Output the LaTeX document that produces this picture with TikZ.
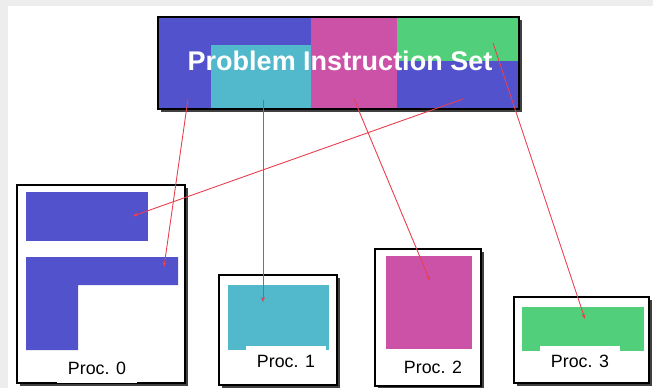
\documentclass[tikz,border=0pt]{standalone}
\usepackage{fontspec}
\setmainfont{Liberation Sans}
\usetikzlibrary{arrows.meta,shadows}
\definecolor{pblue}{HTML}{5252CC}
\definecolor{pcyan}{HTML}{52B8CC}
\definecolor{pmagenta}{HTML}{CC52A8}
\definecolor{pgreen}{HTML}{52CF7A}
\definecolor{feedred}{HTML}{E8404F}
\definecolor{pagegray}{HTML}{EDEDED}
\begin{document}
\begin{tikzpicture}[x=1pt,y=-1pt,
    frame/.style={draw=black, line width=1.5pt, drop shadow={shadow xshift=2.5pt, shadow yshift=-2.5pt, opacity=0.75, fill=black}},
    feed/.style={draw=feedred, line width=0.9pt, -{Stealth[length=5pt,width=4pt]}},
    proclabel/.style={fill=white, inner sep=0pt, minimum width=80pt, minimum height=30pt, font=\fontsize{17.8}{20}\selectfont}]
    \useasboundingbox (0,0) rectangle (653,388);
    \fill[white] (0,0) rectangle (653,388);
    \fill[pagegray] (0,0) rectangle (653,6); \fill[pagegray] (0,0) rectangle (8,388);

    % instruction set
    \path[frame, fill=pblue] (158,17) rectangle (519,109);
    \fill[pcyan] (211,45) rectangle (311,109);
    \fill[pmagenta] (311,17) rectangle (397,109);
    \fill[pgreen] (397,17) rectangle (519,61);
    \draw[line width=1.5pt] (158,17) rectangle (519,109);
    \node[text=white, font=\fontsize{27}{30}\selectfont\bfseries] (pis) at (340,60.5) {Problem Instruction Set};

    % processors
    \path[frame, fill=white] (17,185) rectangle (185,383);
    \fill[pblue] (26,192) rectangle (148,241);
    \fill[pblue] (26,257) -- (178,257) -- (178,285) -- (78,285) -- (78,350) -- (26,350) -- cycle;
    \node[proclabel] (l0) at (97,368) {Proc. 0};

    \path[frame, fill=white] (219,275) rectangle (337,385);
    \fill[pcyan] (228,285) rectangle (329,350);
    \node[proclabel] (l1) at (286,361) {Proc. 1};

    \path[frame, fill=white] (375,249) rectangle (481,386);
    \fill[pmagenta] (386,256) rectangle (472,349);
    \node[proclabel] (l2) at (433,367) {Proc. 2};

    \path[frame, fill=white] (514,297) rectangle (649,383);
    \fill[pgreen] (522,307) rectangle (644,351);
    \node[proclabel] (l3) at (580,361) {Proc. 3};

    % where each part goes
    \coordinate (s0) at (188,99);  \coordinate (t0) at (164,267);
    \coordinate (s1) at (263,100); \coordinate (t1) at (263,302);
    \coordinate (s2) at (354,99);  \coordinate (t2) at (430,281);
    \coordinate (s3) at (463,99);  \coordinate (t3) at (133,216);
    \coordinate (s4) at (493,43);  \coordinate (t4) at (585,319);
    \draw[feed] (s0) -- (t0);
    \draw[feed] (s1) -- (t1);
    \draw[feed] (s2) -- (t2);
    \draw[feed] (s3) -- (t3);
    \draw[feed] (s4) -- (t4);
\end{tikzpicture}
\end{document}
